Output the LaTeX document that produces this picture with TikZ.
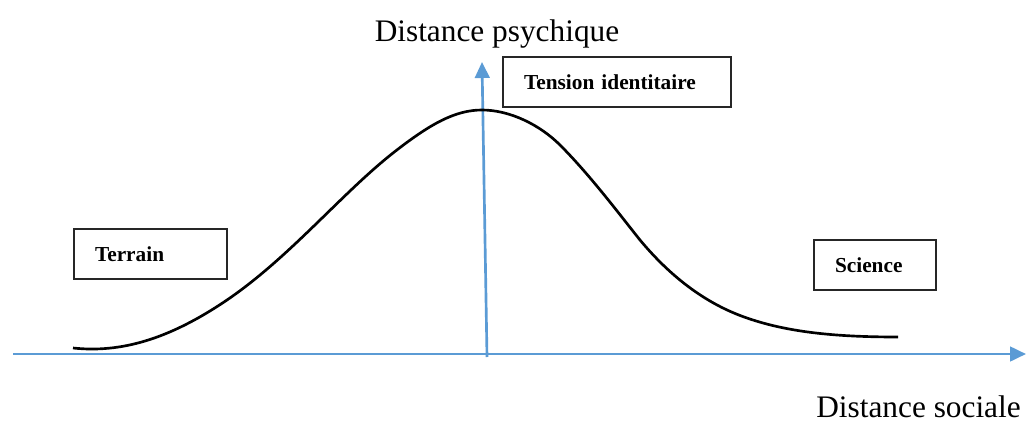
\documentclass[tikz,border=0pt]{standalone}
\usepackage{fontspec}
\setmainfont{Liberation Serif}
\definecolor{AxisBlue}{RGB}{91,155,213}
\usetikzlibrary{arrows.meta,positioning}

\begin{document}
\begin{tikzpicture}[
    x=0.75pt, y=-0.75pt,
    box/.style={rectangle, draw=black!85, line width=0.8pt, minimum width=#1, minimum height=37.5pt, inner xsep=15.75pt, text width=#1-31.5pt, align=left, font=\fontsize{16}{19}\selectfont\bfseries},
    axis/.style={-{Triangle[width=11pt,length=12pt]}, line width=2pt, AxisBlue},
    lbl/.style={inner sep=0pt, anchor=base, font=\fontsize{23.5}{28}\selectfont}
]
    \useasboundingbox (0,0) rectangle (1026,422);
    % axes
    \coordinate (xs) at (13,354);
    \coordinate (xe) at (1026,354);
    \coordinate (ys) at (487,357);
    \coordinate (ye) at (482,62);
    \draw[axis] (xs) -- (xe);
    \draw[axis] (ys) -- (ye);
    % curve
    \draw[line width=2pt, black] (73,348)
        .. controls (120,353) and (168,340) .. (227,300)
        .. controls (290,257) and (340,195) .. (393,153)
        .. controls (430,124) and (455,110) .. (482,110)
        .. controls (510,110) and (540,125) .. (560,145)
        .. controls (590,175) and (620,215) .. (640,240)
        .. controls (665,270) and (700,302) .. (747,318)
        .. controls (790,333) and (840,337) .. (898,337);
    % boxes
    \node[box=171pt] (tension) at (617,82) {Tension identitaire};
    \node[box=114.75pt] (terrain) at (150.5,254) {Terrain};
    \node[box=91.5pt] (science) at (875,265) {Science};
    % axis labels
    \node[lbl] (psy) at (497,41) {Distance psychique};
    \node[lbl, anchor=base east] (soc) at (1021,417) {Distance sociale};
\end{tikzpicture}
\end{document}
